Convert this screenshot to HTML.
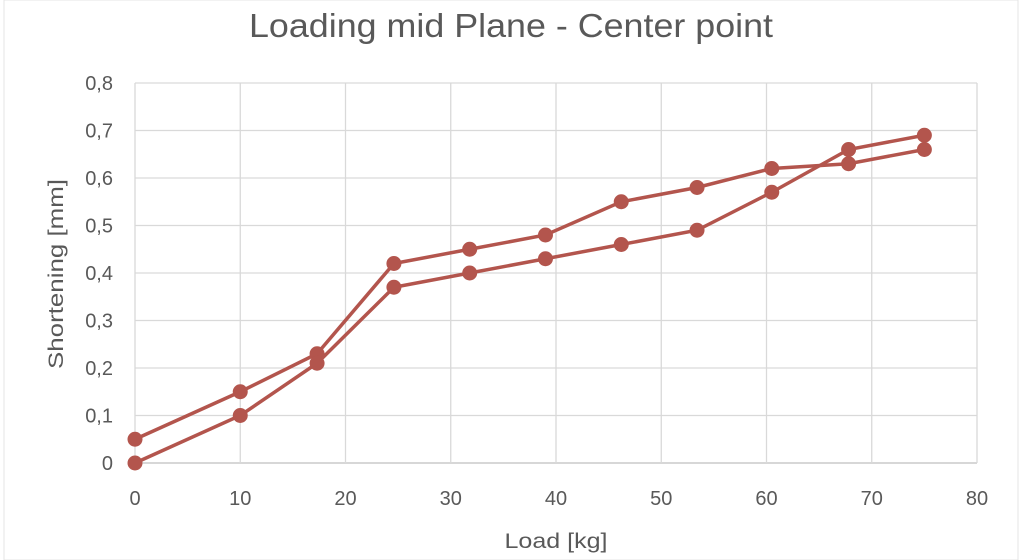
<!DOCTYPE html>
<html><head><meta charset="utf-8"><style>
body{margin:0;background:#fff;}
svg{display:block;font-family:"Liberation Sans",sans-serif;}
</style></head><body>
<svg id="chart" width="1024" height="560">
<rect x="4" y="0" width="1014" height="560" fill="#fff" stroke="#e4e4e4"/>
<text x="511" y="37" text-anchor="middle" font-size="33" textLength="524" lengthAdjust="spacingAndGlyphs" fill="#595959">Loading mid Plane - Center point</text>
<g id="grid"></g><g id="ticks"></g><g id="series"></g>
<text x="556" y="548" text-anchor="middle" font-size="21" textLength="103" lengthAdjust="spacingAndGlyphs" fill="#595959">Load [kg]</text>
<text transform="translate(63,274) rotate(-90)" text-anchor="middle" font-size="21" textLength="190" lengthAdjust="spacingAndGlyphs" fill="#595959">Shortening [mm]</text>
</svg>
<script>
const loads=[0,10,17.3,24.6,31.8,39,46.2,53.4,60.5,67.8,75];
const seriesA=[0.05,0.15,0.23,0.42,0.45,0.48,0.55,0.58,0.62,0.63,0.66];
const seriesB=[0,0.10,0.21,0.37,0.40,0.43,0.46,0.49,0.57,0.66,0.69];
const xTicks=[0,10,20,30,40,50,60,70,80];
const yTicks=[0,0.1,0.2,0.3,0.4,0.5,0.6,0.7,0.8];
const NS="http://www.w3.org/2000/svg";
const X=v=>135+v*(977-135)/80, Y=v=>463-v*(463-83)/0.8;
function mk(t,a,p){const e=document.createElementNS(NS,t);for(const k in a)e.setAttribute(k,a[k]);p.appendChild(e);return e;}
const g=document.getElementById('grid'),tk=document.getElementById('ticks'),s=document.getElementById('series');
yTicks.forEach(v=>{
 const l=mk('line',{x1:135,x2:977,y1:Y(v),y2:Y(v),stroke:v===0?'#bfbfbf':'#d9d9d9','stroke-width':1.3},g);
 
 
 const t=mk('text',{x:113,y:Y(v)+7,'text-anchor':'end','font-size':20,fill:'#595959'},tk);
 t.textContent=v===0?'0':v.toFixed(1).replace('.',',');
 
 
});
xTicks.forEach(v=>{
 const l=mk('line',{x1:X(v),x2:X(v),y1:83,y2:463,stroke:'#d9d9d9','stroke-width':1.3},g);
 
 
 const t=mk('text',{x:X(v),y:505,'text-anchor':'middle','font-size':20,fill:'#595959'},tk);
 t.textContent=v;
 
 
});
[[seriesA,'series-a'],[seriesB,'series-b']].forEach(([d,n])=>{
 const p=mk('polyline',{points:d.map((v,i)=>X(loads[i])+','+Y(v)).join(' '),fill:'none',stroke:'#b3554d','stroke-width':3.5},s);
 
 
 d.forEach((v,i)=>{
  const c=mk('circle',{cx:X(loads[i]),cy:Y(v),r:7.5,fill:'#b3554d'},s);
  
  
 });
});
</script>
</body></html>
